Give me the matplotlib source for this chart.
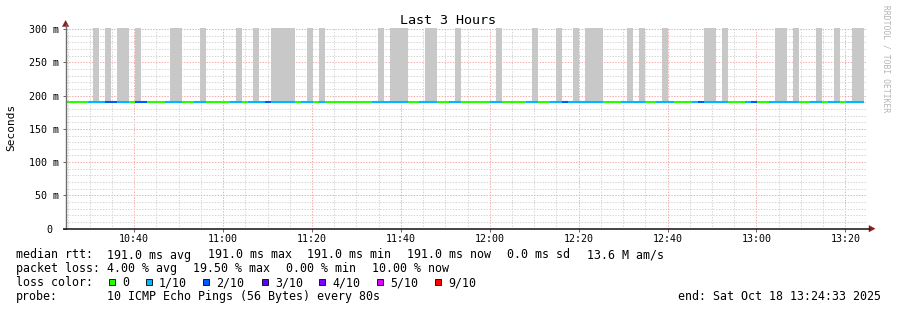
import matplotlib
matplotlib.use("Agg")
import matplotlib.pyplot as plt
from matplotlib.patches import Rectangle, Polygon
from matplotlib.ticker import MultipleLocator, FuncFormatter

# ---------------- data ----------------
title = "Last 3 Hours"
graph_start_s = 10 * 3600 + 24 * 60 + 33      # 10:24:33
graph_end_s = 13 * 3600 + 24 * 60 + 33        # 13:24:33
first_sample_s = 10 * 3600 + 24 * 60 + 9      # first 80 s sample start
step_s = 80
median_rtt_s = 0.191

# packet loss per sample (lost pings out of 10)
loss = [0, 0, 0, 0, 1, 1, 1, 2, 2, 1, 1, 0, 2, 2, 0,
        0, 0, 1, 1, 1, 0, 0, 1, 1, 0, 0, 0, 0, 1, 1,
        0, 1, 1, 1, 2, 1, 1, 1, 1, 0, 1, 1, 0, 1, 0,
        0, 0, 0, 0, 0, 0, 0, 1, 1, 1, 1, 1, 1, 0, 0,
        1, 1, 1, 0, 0, 1, 1, 0, 0, 0, 0, 0, 1, 1, 0,
        0, 0, 0, 1, 1, 0, 0, 1, 1, 2, 1, 1, 1, 1, 1,
        1, 0, 0, 0, 1, 1, 1, 1, 0, 0, 1, 1, 1, 0, 0,
        0, 1, 2, 1, 1, 1, 1, 0, 0, 0, 1, 2, 0, 0, 1,
        1, 1, 1, 1, 0, 0, 1, 1, 0, 1, 1, 0, 1, 1, 1]

# top of the ping smoke per sample (ms); 330 = beyond the chart top
smoke_max_ms = [191, 191, 191, 191, 191, 330, 191, 330, 191, 330, 330, 191, 330, 191, 191,
                191, 191, 191, 330, 330, 191, 191, 191, 330, 191, 191, 191, 191, 191, 330,
                191, 191, 330, 191, 191, 330, 330, 330, 330, 191, 191, 330, 191, 330, 191,
                191, 191, 191, 191, 191, 191, 191, 191, 330, 191, 330, 330, 330, 191, 191,
                191, 330, 330, 191, 191, 191, 330, 191, 191, 191, 191, 191, 191, 330, 191,
                191, 191, 191, 191, 330, 191, 191, 191, 330, 191, 191, 330, 191, 330, 330,
                330, 191, 191, 191, 191, 330, 191, 330, 191, 191, 191, 330, 191, 191, 191,
                191, 191, 191, 330, 330, 191, 330, 191, 191, 191, 191, 191, 191, 191, 191,
                330, 330, 191, 330, 191, 191, 191, 330, 191, 191, 330, 191, 191, 330, 330]

loss_colors = {0: "#26ff00", 1: "#00b8ff", 2: "#0059ff", 3: "#5e00ff",
               4: "#7e00ff", 5: "#dd00ff", 9: "#ff0000"}
loss_labels = ["0", "1/10", "2/10", "3/10", "4/10", "5/10", "9/10"]
loss_keys = [0, 1, 2, 3, 4, 5, 9]

legend_rows = {
    "median": ["median rtt:", "191.0 ms avg", "191.0 ms max", "191.0 ms min",
               "191.0 ms now", "0.0 ms sd", "13.6 M am/s"],
    "loss": ["packet loss:", "4.00 % avg", "19.50 % max", "0.00 % min", "10.00 % now"],
    "probe": ["probe:", "10 ICMP Echo Pings (56 Bytes) every 80s"],
}
end_text = "end: Sat Oct 18 13:24:33 2025"
side_text = "RRDTOOL / TOBI OETIKER"

# ---------------- figure ----------------
W, H, DPI = 897, 310, 100
MONO = "DejaVu Sans Mono"
plt.rcParams["font.family"] = MONO

fig = plt.figure(figsize=(W / DPI, H / DPI), dpi=DPI)
fig.patch.set_facecolor("white")

L, R, B, T = 65.6, 865.6, 228.7, 28.0
ax = fig.add_axes([L / W, 1 - B / H, (R - L) / W, (B - T) / H])
ax.set_facecolor("white")
px_per_s = (B - 29.0) / 0.300
ax.set_xlim(graph_start_s, graph_end_s)
ax.set_ylim(0, (B - T) / px_per_s)

# smoke (gray) and median line coloured by loss
starts = [first_sample_s + i * step_s for i in range(len(loss))]
heights = [m / 1000.0 - median_rtt_s for m in smoke_max_ms]
ax.bar(starts, heights, bottom=median_rtt_s, width=step_s, align="edge",
       color="#c8c8c8", linewidth=0, zorder=2)
ax.hlines([median_rtt_s] * len(loss), starts, [s + step_s for s in starts],
          colors=[loss_colors[v] for v in loss], linewidth=1.5, zorder=3)

# grid
ax.set_axisbelow(True)
ax.xaxis.set_major_locator(MultipleLocator(1200))
ax.xaxis.set_minor_locator(MultipleLocator(300))
ax.yaxis.set_major_locator(MultipleLocator(0.05))
ax.yaxis.set_minor_locator(MultipleLocator(0.01))
ax.grid(which="minor", color="#d6d6d6", linestyle=(0, (1.4, 1.4)), linewidth=0.72)
ax.grid(which="major", color="#f2acac", linestyle=(0, (1.4, 1.4)), linewidth=0.72)


def fmt_time(v, pos):
    v = int(round(v))
    return f"{v // 3600:02d}:{(v % 3600) // 60:02d}"


def fmt_y(v, pos):
    ms = int(round(v * 1000))
    return "0 " if ms == 0 else f"{ms} m"


ax.xaxis.set_major_formatter(FuncFormatter(fmt_time))
ax.yaxis.set_major_formatter(FuncFormatter(fmt_y))
ax.tick_params(which="major", length=2.2, width=0.7, color="#666666",
               labelsize=7.2, pad=1.5)
ax.tick_params(which="minor", length=0, width=0)
ax.tick_params(axis="y", which="major", pad=2.5)
for s in ax.spines.values():
    s.set_visible(False)

# ---------------- overlay in pixel coordinates ----------------
ov = fig.add_axes([0, 0, 1, 1], zorder=5)
ov.set_xlim(0, W)
ov.set_ylim(H, 0)
ov.axis("off")
ov.patch.set_alpha(0)

# axis lines with arrows
ov.plot([L, L], [B, 24], color="#6e6e6e", linewidth=1.0, solid_capstyle="butt")
ov.plot([62.5, 870], [B, B], color="#111111", linewidth=1.1, solid_capstyle="butt")
arrow_c = "#8b1c1c"
ov.add_patch(Polygon([[L - 3.2, 26.5], [L + 3.2, 26.5], [L, 20.5]], closed=True,
                     facecolor=arrow_c, edgecolor=arrow_c, linewidth=0.3))
ov.add_patch(Polygon([[869, B - 3.2], [869, B + 3.2], [875, B]], closed=True,
                     facecolor=arrow_c, edgecolor=arrow_c, linewidth=0.3))

# title, axis label, side text
ov.text(448, 24.5, title, ha="center", va="baseline", fontsize=9.6, color="black")
ov.text(11, 127, "Seconds", ha="center", va="center", rotation=90, fontsize=8)
ov.text(886, 59, side_text, ha="center", va="center", rotation=270,
        fontsize=5.8, color="#b4b4b4")

# legend rows
FS = 8.4
row_y = [258.5, 272.3, 286.0, 299.8]
for txt, x in zip(legend_rows["median"], [16, 107, 207.5, 307.3, 406.7, 506.7, 586.7]):
    ov.text(x, row_y[0], txt, fontsize=FS, va="baseline", ha="left")
for txt, x in zip(legend_rows["loss"], [16, 107, 192.7, 286, 371.7]):
    ov.text(x, row_y[1], txt, fontsize=FS, va="baseline", ha="left")
ov.text(16, row_y[2], "loss color:", fontsize=FS, va="baseline", ha="left")
sq_x = [109, 146, 203, 262, 319, 377, 435]
for key, lab, x in zip(loss_keys, loss_labels, sq_x):
    ov.add_patch(Rectangle((x, 279), 6.3, 6.3, facecolor=loss_colors[key],
                           edgecolor="black", linewidth=0.6))
    ov.text(x + 13, row_y[2], lab, fontsize=FS, va="baseline", ha="left")
for txt, x in zip(legend_rows["probe"], [16, 107]):
    ov.text(x, row_y[3], txt, fontsize=FS, va="baseline", ha="left")
ov.text(880.5, row_y[3], end_text, fontsize=FS, va="baseline", ha="right")

fig.savefig("out.png", dpi=DPI, facecolor="white")
